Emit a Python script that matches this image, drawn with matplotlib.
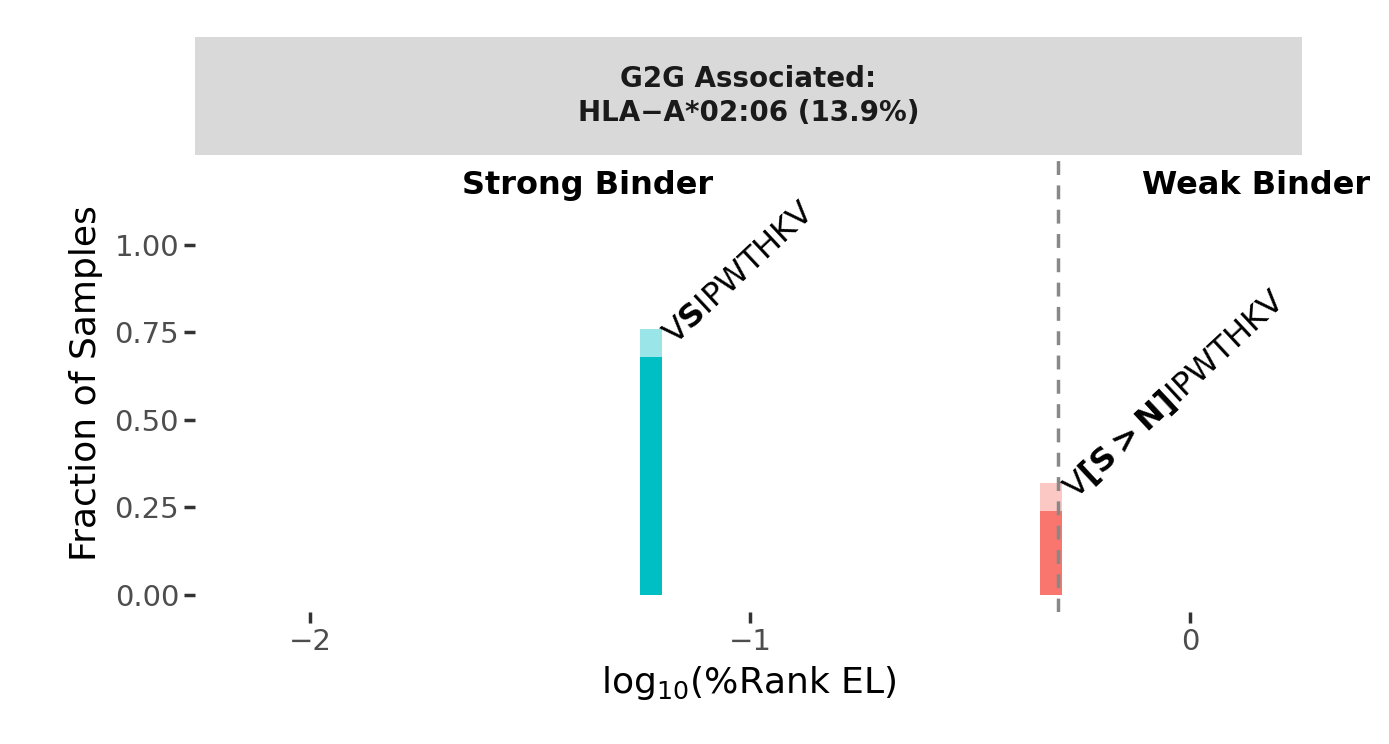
import matplotlib
matplotlib.use("Agg")
import matplotlib.pyplot as plt

peptides = [r"V$\mathbf{S}$IPWTHKV", r"V$\mathbf{[S{>}N]}$IPWTHKV"]
log_rank = [-1.225, -0.316]
frac_solid = [0.68, 0.24]
frac_light = [0.76, 0.32]
colors = ["#00BFC4", "#F8766D"]
threshold = -0.301
xticks = [-2, -1, 0]
yticks = [0.0, 0.25, 0.5, 0.75, 1.0]

W, H = 1389, 744
fig = plt.figure(figsize=(W/100, H/100), dpi=100)
ax = fig.add_axes([195/W, 1-612/H, (1302-195)/W, (612-155)/H])
ax.set_xlim(-2.261, 0.2545)
ax.set_ylim(-0.05, 1.258)

for x, s, l, c in zip(log_rank, frac_solid, frac_light, colors):
    ax.bar(x, l, width=0.05, color=c, alpha=0.4, linewidth=0)
    ax.bar(x, s, width=0.05, color=c, linewidth=0)
for x, l, p in zip(log_rank, frac_light, peptides):
    ax.text(x + 0.04, l - 0.03, p, rotation=43, fontsize=23, ha="left", va="center",
            rotation_mode="anchor")
ax.axvline(threshold, color="#888888", linestyle=(0, (4, 3)), linewidth=2.5)
ax.text(-1.37, 1.17, "Strong Binder", fontsize=23, fontweight="bold", ha="center", va="center")
ax.text(0.15, 1.17, "Weak Binder", fontsize=23, fontweight="bold", ha="center", va="center", clip_on=False)

for sp in ax.spines.values():
    sp.set_visible(False)
ax.set_xticks(xticks)
ax.set_xticklabels(["\u22122", "\u22121", "0"])
ax.set_yticks(yticks)
ax.set_yticklabels(["0.00", "0.25", "0.50", "0.75", "1.00"])
ax.tick_params(axis="both", labelsize=21, labelcolor="#4D4D4D", color="#333333",
               length=8, width=2.5)
ax.set_xlabel(r"log$_{10}$(%Rank EL)", fontsize=26, labelpad=6)
ax.set_ylabel("Fraction of Samples", fontsize=26, labelpad=8)

strip = fig.add_axes([195/W, 1-155/H, (1302-195)/W, (155-37)/H])
strip.set_facecolor("#D9D9D9")
strip.set_xticks([]); strip.set_yticks([])
for sp in strip.spines.values():
    sp.set_visible(False)
strip.text(0.5, 0.5, "G2G Associated:\nHLA\u2212A*02:06 (13.9%)", ha="center", va="center",
           fontsize=20, fontweight="bold", color="#1A1A1A", transform=strip.transAxes,
           linespacing=1.3)

fig.savefig("out.png", dpi=100)
